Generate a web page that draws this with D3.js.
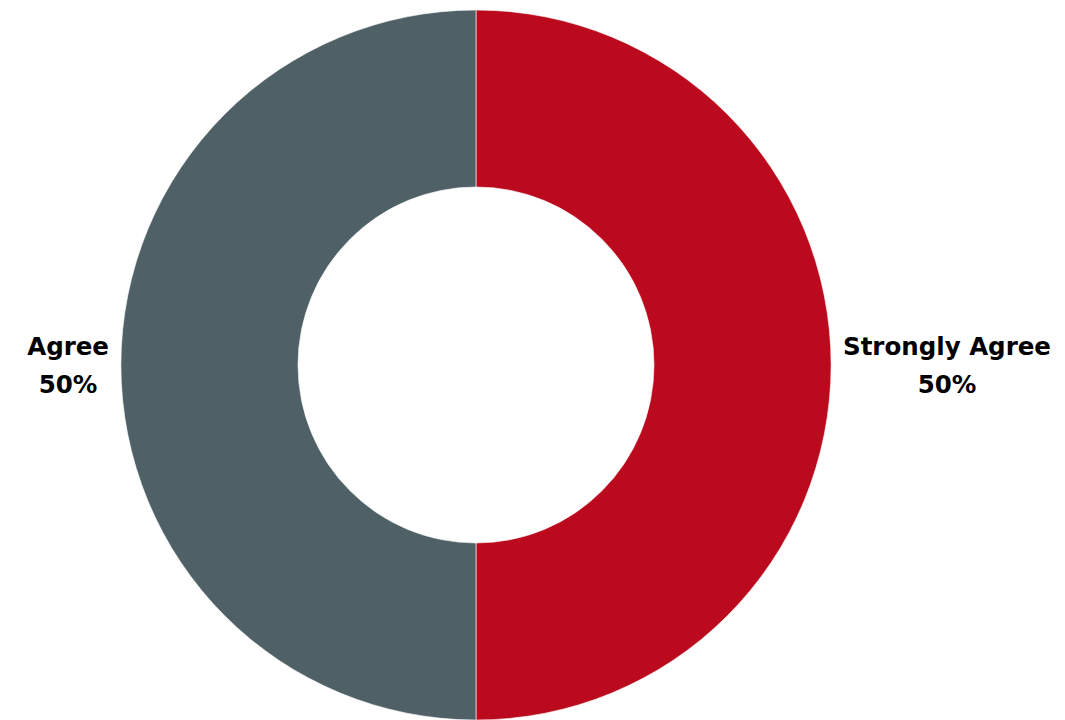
<!DOCTYPE html>
<html>
<head>
<meta charset="utf-8">
<script src="https://cdn.jsdelivr.net/npm/d3@7"></script>
<style>
  html, body { margin: 0; padding: 0; background: #fff; }
  svg text { font-family: "DejaVu Sans", "Open Sans", sans-serif; font-weight: 700; fill: #000; }
</style>
</head>
<body>
<svg id="chart" width="1065" height="720"></svg>
<script>
// Response shares
const categories = ["Strongly Agree", "Agree"];
const values = [50, 50];
const colors = ["#BB0A1E", "#4F6167"];

const width = 1065, height = 720;
const cx = 476, cy = 365;
const outerR = 355, innerR = 178;

const svg = d3.select("#chart");
const g = svg.append("g").attr("transform", `translate(${cx},${cy})`);

const data = categories.map((c, i) => ({ name: c, value: values[i], color: colors[i] }));

const pie = d3.pie().value(d => d.value).sort(null);
const arc = d3.arc().innerRadius(innerR).outerRadius(outerR);
const arcs = pie(data);

g.selectAll("path.slice")
  .data(arcs)
  .join("path")
  .attr("class", "slice")
  .attr("d", arc)
  .attr("fill", d => d.data.color)
  .attr("stroke", "#ffffff")
  .attr("stroke-width", 0.6);

// Labels sit just outside the ring, at the middle angle of each slice
const fontSize = 24.5;
const lineGap = 38;
const pad = 12;
arcs.forEach(a => {
  const mid = (a.startAngle + a.endAngle) / 2;
  const right = Math.sin(mid) >= 0;
  const label = g.append("text")
    .attr("font-size", fontSize)
    .attr("text-anchor", "middle");
  const lines = [a.data.name, d3.format(".0f")(a.data.value / d3.sum(values) * 100) + "%"];
  const tspans = label.selectAll("tspan").data(lines).join("tspan").text(d => d);
  const w = d3.max(tspans.nodes(), n => n.getComputedTextLength());
  const ex = Math.sin(mid) * outerR;
  const x = right ? ex + pad + w / 2 : ex - pad - w / 2;
  tspans.attr("x", x).attr("y", (d, i) => (i - 0.5) * lineGap + fontSize * 0.35);
});
</script>
</body>
</html>
